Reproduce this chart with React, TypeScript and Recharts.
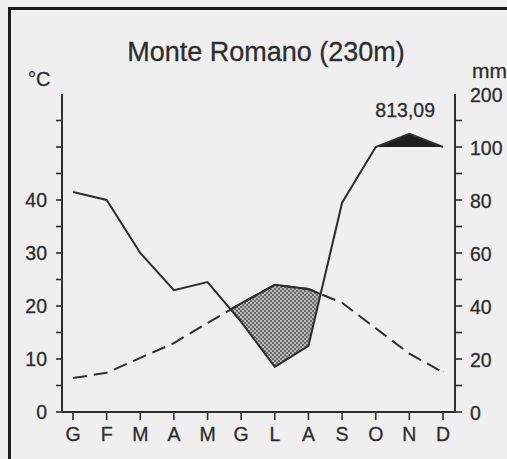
import { Area, ComposedChart, Line, XAxis, YAxis } from "recharts";

const MONTHS = ["G", "F", "M", "A", "M", "G", "L", "A", "S", "O", "N", "D"];
const TEMP_C = [6.4, 7.4, 10.2, 13, 16.8, 20.5, 24, 23.2, 20.6, 15.8, 11, 7.5];
const PRECIP_MM = [83, 80, 60, 46, 49, 34, 17, 25, 79, 100, 125, 100];
const TEMP_TICKS = [0, 5, 10, 15, 20, 25, 30, 35, 40, 45, 50, 55];
const TEMP_LABELS = [0, 10, 20, 30, 40];
const PRECIP_TICKS = [0, 5, 10, 15, 20, 25, 30, 35, 40, 45, 50, 55, 60];
const PRECIP_LABELS = [0, 20, 40, 60, 80, 100, 200];

const BG = "#efefef";
const INK = "#2e2e2e";
const FONT = "'Liberation Sans', Arial, sans-serif";

// Walter-Lieth: 10°C = 20mm up to 100mm, then 100mm per 10°C step
function mmToScale(mm: number) {
  return mm <= 100 ? mm / 2 : 50 + (mm - 100) / 10;
}
function scaleToMm(v: number) {
  return v <= 50 ? v * 2 : 100 + (v - 50) * 10;
}

const data = MONTHS.map((m, i) => {
  const rain = mmToScale(PRECIP_MM[i]);
  return { x: i, month: m, temp: TEMP_C[i], rain, wet: Math.max(50, rain) };
});

function RightTick(props: any) {
  const { x, y, payload } = props;
  const mm = scaleToMm(payload.value);
  const ax = x - 15;
  return (
    <g>
      {payload.value < 60 && (
        <line x1={ax} x2={ax + 7} y1={y} y2={y} stroke={INK} strokeWidth={1.6} />
      )}
      {PRECIP_LABELS.includes(mm) && (
        <text
          x={x}
          y={y + 1}
          dy="0.355em"
          textAnchor="start"
          fill={INK}
          stroke={INK}
          strokeWidth={0.3}
          fontSize={19.5}
          fontFamily={FONT}
        >
          {mm}
        </text>
      )}
    </g>
  );
}

export default function App() {
  return (
    <div
      style={{
        position: "absolute",
        left: 0,
        top: 0,
        width: 507,
        height: 459,
        background: BG,
        overflow: "hidden",
      }}
    >
      <div
        style={{
          position: "absolute",
          left: 8,
          top: 7,
          width: 520,
          height: 470,
          borderTop: "3px solid #1c1c1c",
          borderLeft: "3px solid #1c1c1c",
        }}
      />
      <ComposedChart
        width={507}
        height={459}
        data={data}
        margin={{ top: 94, right: 0, bottom: 0, left: 2 }}
        style={{ position: "absolute", left: 0, top: 0 }}
      >
        <defs>
          <pattern id="dots" width={4} height={4} patternUnits="userSpaceOnUse">
            <rect width={4} height={4} fill="#6a6a6a" />
            <circle cx={1} cy={1} r={1} fill="#d4d4d4" />
            <circle cx={3} cy={3} r={1} fill="#d4d4d4" />
          </pattern>
        </defs>
        <XAxis
          dataKey="x"
          type="number"
          domain={[-0.327, 11.357]}
          ticks={MONTHS.map((_, i) => i)}
          tickFormatter={(i: number) => MONTHS[i]}
          height={47}
          tickSize={8}
          tickMargin={7}
          interval={0}
          allowDataOverflow
          axisLine={{ stroke: INK, strokeWidth: 2 }}
          tickLine={{ stroke: INK, strokeWidth: 1.6 }}
          tick={{ fontSize: 19.5, fill: INK, stroke: INK, strokeWidth: 0.3, fontFamily: FONT }}
        />
        <YAxis
          yAxisId="t"
          orientation="left"
          domain={[0, 60]}
          ticks={TEMP_TICKS}
          tickFormatter={(v: number) => (TEMP_LABELS.includes(v) ? String(v) : "")}
          width={60}
          tickSize={6}
          tickMargin={9}
          interval={0}
          allowDataOverflow
          axisLine={{ stroke: INK, strokeWidth: 2 }}
          tickLine={{ stroke: INK, strokeWidth: 1.6 }}
          tick={{ fontSize: 19.5, fill: INK, stroke: INK, strokeWidth: 0.3, fontFamily: FONT }}
        />
        <YAxis
          yAxisId="p"
          orientation="right"
          domain={[0, 60]}
          ticks={PRECIP_TICKS}
          width={52}
          tickSize={7}
          tickMargin={8}
          interval={0}
          allowDataOverflow
          axisLine={{ stroke: INK, strokeWidth: 2 }}
          tickLine={false}
          tick={<RightTick />}
        />
        <Area
          yAxisId="t"
          dataKey="temp"
          type="linear"
          baseValue={4}
          fill="url(#dots)"
          fillOpacity={1}
          stroke={INK}
          strokeWidth={2}
          dot={false}
          activeDot={false}
          isAnimationActive={false}
        />
        <Area
          yAxisId="p"
          dataKey="rain"
          type="linear"
          baseValue={2}
          fill={BG}
          fillOpacity={1}
          stroke="none"
          dot={false}
          activeDot={false}
          isAnimationActive={false}
        />
        <Area
          yAxisId="p"
          dataKey="wet"
          type="linear"
          baseValue={50}
          fill="#1e1e1e"
          fillOpacity={1}
          stroke="none"
          dot={false}
          activeDot={false}
          isAnimationActive={false}
        />
        <Line
          yAxisId="t"
          dataKey="temp"
          type="linear"
          stroke={INK}
          strokeWidth={2}
          strokeDasharray="14 7"
          dot={false}
          activeDot={false}
          isAnimationActive={false}
        />
        <Line
          yAxisId="p"
          dataKey="rain"
          type="linear"
          stroke={INK}
          strokeWidth={2}
          dot={false}
          activeDot={false}
          isAnimationActive={false}
        />
      </ComposedChart>
      <svg
        width={507}
        height={459}
        style={{ position: "absolute", left: 0, top: 0, pointerEvents: "none" }}
      >
        <g fill={INK} stroke={INK} strokeWidth={0.3} fontFamily={FONT}>
          <text x={266} y={61} fontSize={27} textAnchor="middle">
            Monte Romano (230m)
          </text>
          <text x={28} y={86} fontSize={20}>
            °C
          </text>
          <text x={472} y={78} fontSize={21}>
            mm
          </text>
          <text x={435} y={117} fontSize={19.5} textAnchor="end">
            813,09
          </text>
        </g>
      </svg>
    </div>
  );
}
